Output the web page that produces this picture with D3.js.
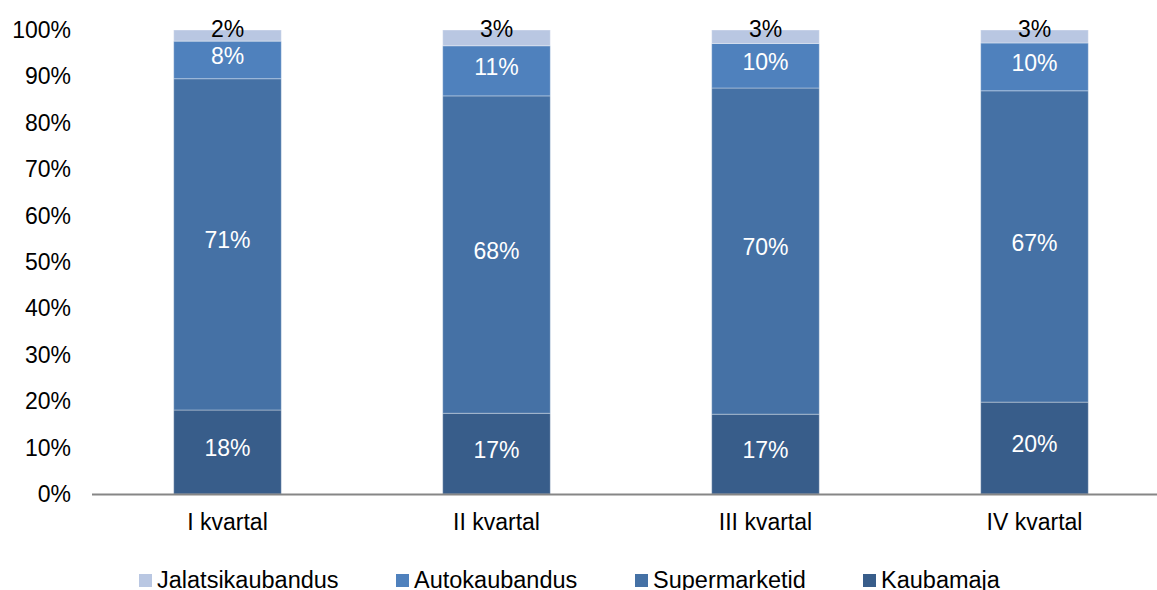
<!DOCTYPE html>
<html>
<head>
<meta charset="utf-8">
<script src="https://cdn.jsdelivr.net/npm/d3@7"></script>
<style>
  body { margin: 0; background: #fff; }
  svg { display: block; font-family: "Liberation Sans", Arial, sans-serif; }
</style>
</head>
<body>
<svg width="1157" height="590"></svg>
<script>
// categories and series (share of total, %)
const quarters = ["I kvartal", "II kvartal", "III kvartal", "IV kvartal"];
const kaubamaja = [18.1, 17.4, 17.2, 19.8];
const supermarketid = [71.4, 68.4, 70.3, 67.1];
const autokaubandus = [8.1, 10.8, 9.6, 10.3];
const jalatsikaubandus = [2.4, 3.4, 2.9, 2.8];
const yTicks = [0, 10, 20, 30, 40, 50, 60, 70, 80, 90, 100];

// stacking order bottom -> top
const series = [
  { name: "Kaubamaja", values: kaubamaja, color: "#385d8a", text: "#fff" },
  { name: "Supermarketid", values: supermarketid, color: "#4571a5", text: "#fff" },
  { name: "Autokaubandus", values: autokaubandus, color: "#4f81bd", text: "#fff" },
  { name: "Jalatsikaubandus", values: jalatsikaubandus, color: "#b9c7e2", text: "#000" }
];
// legend order as in the picture
const legendOrder = ["Jalatsikaubandus", "Autokaubandus", "Supermarketid", "Kaubamaja"];
const legendX = [139, 396, 635, 863];

const svg = d3.select("svg");

// build table for d3.stack
const table = quarters.map((q, i) => {
  const row = { q: q };
  series.forEach((s) => { row[s.name] = s.values[i]; });
  return row;
});
const stack = d3.stack().keys(series.map((s) => s.name));
const stacked = stack(table);

const x = d3.scaleBand()
  .domain(quarters)
  .range([93, 1169])
  .paddingInner(0.6)
  .paddingOuter(0.3);

const y = d3.scaleLinear().domain([0, 100]).range([494, 30]);

// y tick labels
svg.append("g")
  .selectAll("text")
  .data(yTicks)
  .enter()
  .append("text")
  .attr("x", 71)
  .attr("y", (d) => y(d))
  .attr("dy", "0.35em")
  .attr("text-anchor", "end")
  .attr("font-size", 23)
  .attr("fill", "#000")
  .text((d) => d + "%");

// bars
const layer = svg.append("g")
  .selectAll("g")
  .data(stacked)
  .enter()
  .append("g")
  .attr("fill", (d, i) => series[i].color);

layer.selectAll("rect")
  .data((d) => d)
  .enter()
  .append("rect")
  .attr("x", (d) => x(d.data.q))
  .attr("width", x.bandwidth())
  .attr("y", (d) => y(d[1]))
  .attr("height", (d) => y(d[0]) - y(d[1]))
  .attr("stroke", "rgba(255,255,255,0.35)")
  .attr("stroke-width", 1);

// value labels
stacked.forEach((layerData, i) => {
  const top = i === stacked.length - 1;
  svg.append("g")
    .selectAll("text")
    .data(layerData)
    .enter()
    .append("text")
    .attr("x", (d) => x(d.data.q) + x.bandwidth() / 2)
    .attr("y", (d) => top ? y(100) - 1 : (y(d[0]) + y(d[1])) / 2 - 4)
    .attr("dy", "0.35em")
    .attr("text-anchor", "middle")
    .attr("font-size", 23)
    .attr("fill", series[i].text)
    .text((d) => d3.format(".0f")(d[1] - d[0]) + "%");
});

// x axis line
svg.append("line")
  .attr("x1", 92)
  .attr("x2", 1157)
  .attr("y1", y(0) + 0.5)
  .attr("y2", y(0) + 0.5)
  .attr("stroke", "#868686")
  .attr("stroke-width", 2);

// category labels
svg.append("g")
  .selectAll("text")
  .data(quarters)
  .enter()
  .append("text")
  .attr("x", (d) => x(d) + x.bandwidth() / 2)
  .attr("y", 522)
  .attr("dy", "0.35em")
  .attr("text-anchor", "middle")
  .attr("font-size", 23)
  .text((d) => d);

// legend
const legend = svg.append("g")
  .selectAll("g")
  .data(legendOrder)
  .enter()
  .append("g")
  .attr("transform", (d, i) => "translate(" + legendX[i] + ",574)");

legend.append("rect")
  .attr("width", 13)
  .attr("height", 13)
  .attr("fill", (d) => series.find((s) => s.name === d).color);

legend.append("text")
  .attr("x", 18)
  .attr("y", 6)
  .attr("dy", "0.35em")
  .attr("font-size", 23.5)
  .text((d) => d);
</script>
</body>
</html>
